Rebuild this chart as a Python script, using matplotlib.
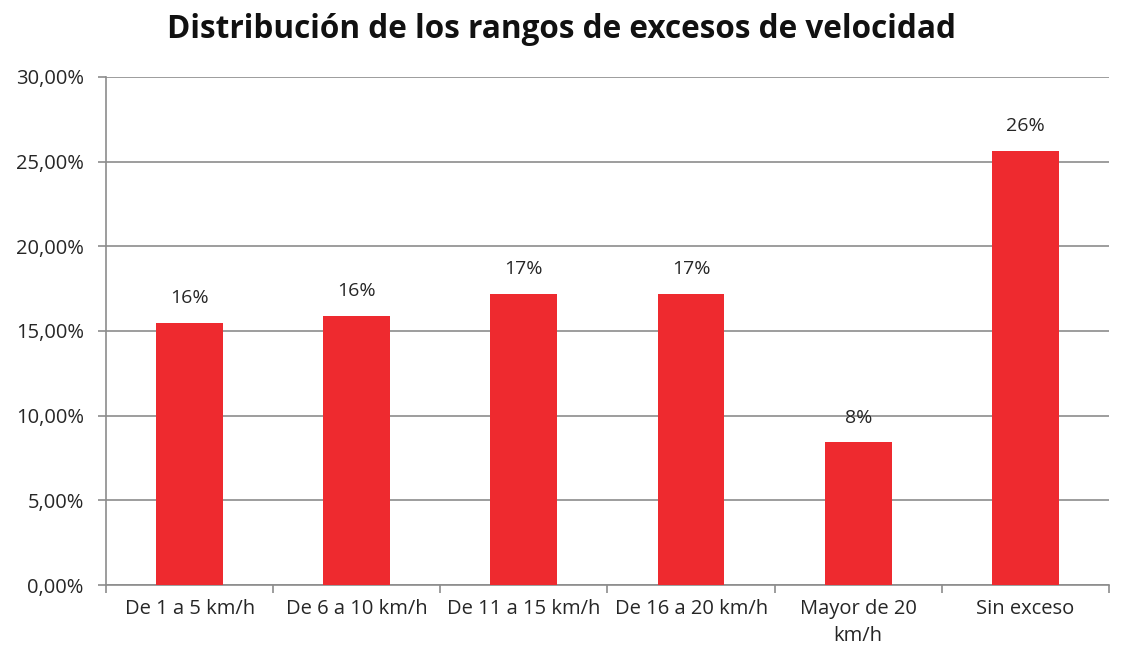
import matplotlib
matplotlib.use("Agg")
import matplotlib.pyplot as plt
from matplotlib.ticker import FuncFormatter, FixedLocator

categories = ["De 1 a 5 km/h", "De 6 a 10 km/h", "De 11 a 15 km/h",
              "De 16 a 20 km/h", "Mayor de 20\nkm/h", "Sin exceso"]
values = [15.5, 15.9, 17.2, 17.2, 8.45, 25.65]
title = "Distribución de los rangos de excesos de velocidad"

plt.rcParams['font.family'] = ['Open Sans', 'DejaVu Sans']

fig = plt.figure(figsize=(11.23, 6.48), dpi=100)
ax = fig.add_axes([0.0944, 0.0972, 0.8931, 0.7840])

x = list(range(len(categories)))
bars = ax.bar(x, values, width=0.4, color="#EE2A2F", zorder=3)

ax.set_xlim(-0.5, len(categories) - 0.5)
ax.set_ylim(0, 30)
ax.set_yticks([0, 5, 10, 15, 20, 25, 30])
ax.yaxis.set_major_formatter(FuncFormatter(lambda v, p: f"{v:.2f}%".replace(".", ",")))
ax.grid(axis="y", color="#8c8c8c", linewidth=1.2, zorder=0)

ax.set_xticks(x)
ax.set_xticklabels(categories, fontsize=14.5, color="#262626", linespacing=1.45)
ax.xaxis.set_minor_locator(FixedLocator([i - 0.5 for i in range(len(categories) + 1)]))
ax.tick_params(axis="x", which="major", length=0, pad=10)
ax.tick_params(axis="x", which="minor", length=6, color="#8c8c8c", width=1.2)
ax.tick_params(axis="y", length=6, color="#8c8c8c", width=1.2, labelsize=14.5,
               labelcolor="#262626", pad=10)

for s in ["top", "right"]:
    ax.spines[s].set_visible(False)
for s in ["left", "bottom"]:
    ax.spines[s].set_color("#8c8c8c")
    ax.spines[s].set_linewidth(1.2)

for b, v in zip(bars, values):
    ax.annotate(f"{round(v):.0f}%", (b.get_x() + b.get_width() / 2, v),
                xytext=(0, 11), textcoords="offset points", ha="center",
                va="bottom", fontsize=14, color="#262626")

fig.text(0.5, 0.955, title, ha="center", va="center", fontsize=22.7,
         fontweight="bold", color="#111111")

fig.savefig("out.png", dpi=100, facecolor="white")
